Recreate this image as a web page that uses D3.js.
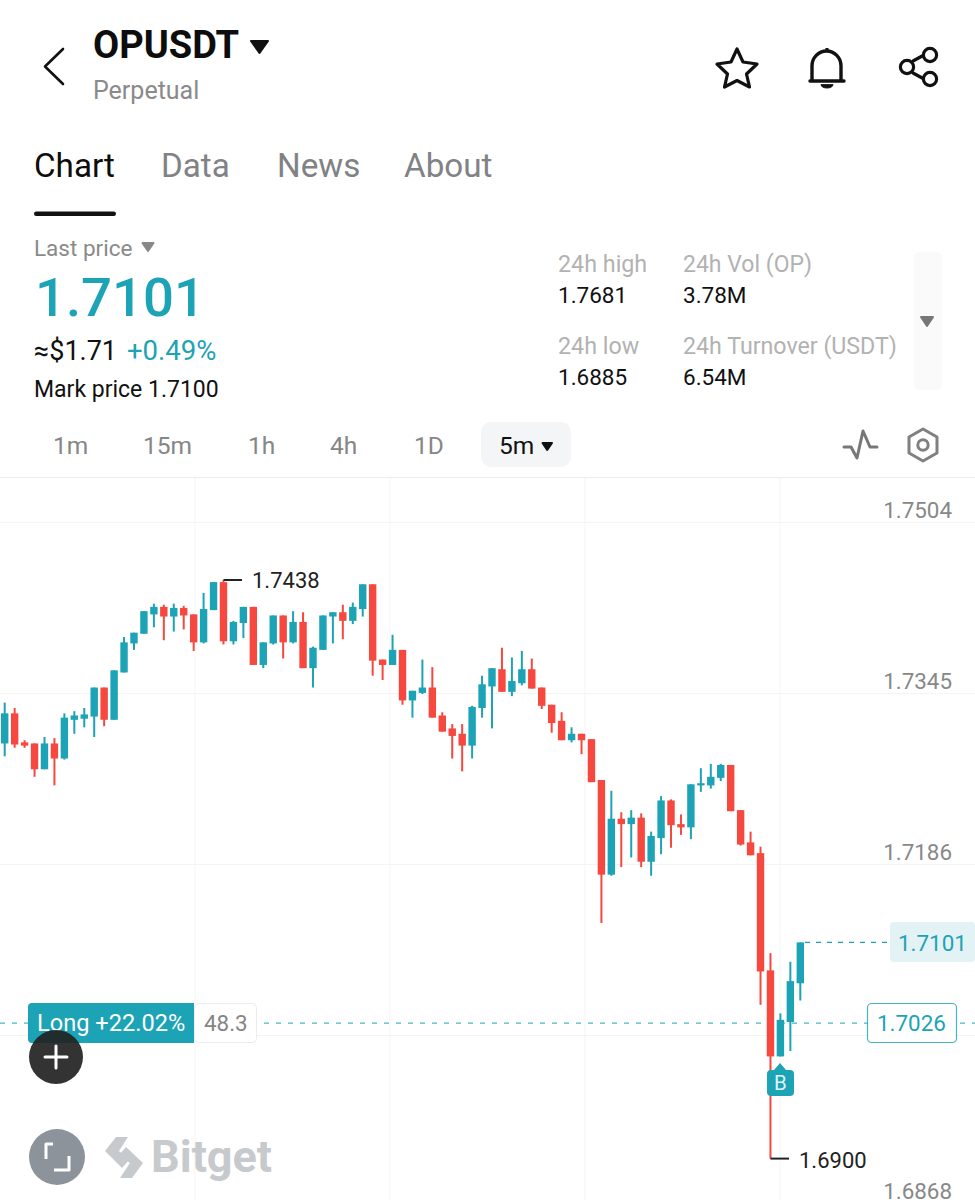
<!DOCTYPE html>
<html><head><meta charset="utf-8">
<script src="https://cdn.jsdelivr.net/npm/d3@7"></script>
<style>html,body{margin:0;padding:0;background:#fff}svg{display:block}text{font-family:Roboto,"Noto Sans",sans-serif}</style>
</head><body><div id="c"></div>
<script>
const opens=[1.7286,1.7314,1.7287,1.7286,1.7262,1.7286,1.7272,1.7308,1.7309,1.7311,1.7338,1.7308,1.7352,1.7379,1.7388,1.7406,1.7413,1.7404,1.7412,1.7406,1.7380,1.7410,1.7436,1.7381,1.7398,1.7413,1.7359,1.7379,1.7405,1.7380,1.7399,1.7356,1.7373,1.7404,1.7408,1.7400,1.7411,1.7434,1.7364,1.7359,1.7373,1.7326,1.7333,1.7338,1.7312,1.7300,1.7295,1.7284,1.7319,1.7339,1.7355,1.7334,1.7342,1.7355,1.7338,1.7322,1.7307,1.7289,1.7295,1.7290,1.7252,1.7164,1.7216,1.7211,1.7217,1.7176,1.7198,1.7233,1.7211,1.7208,1.7247,1.7247,1.7254,1.7266,1.7224,1.7194,1.7184,1.7075,1.6995,1.7027,1.7063];
const closes=[1.7314,1.7285,1.7284,1.7262,1.7286,1.7272,1.7310,1.7312,1.7313,1.7338,1.7308,1.7354,1.7380,1.7389,1.7409,1.7413,1.7404,1.7412,1.7405,1.7380,1.7411,1.7436,1.7381,1.7399,1.7413,1.7359,1.7380,1.7405,1.7380,1.7399,1.7356,1.7375,1.7405,1.7408,1.7400,1.7413,1.7434,1.7363,1.7359,1.7373,1.7326,1.7335,1.7338,1.7310,1.7297,1.7293,1.7284,1.7320,1.7341,1.7356,1.7334,1.7344,1.7355,1.7337,1.7321,1.7305,1.7289,1.7295,1.7289,1.7250,1.7164,1.7216,1.7211,1.7217,1.7176,1.7200,1.7233,1.7210,1.7208,1.7248,1.7249,1.7255,1.7266,1.7223,1.7192,1.7182,1.7074,1.6995,1.7029,1.7065,1.7101];
const highs=[1.7324,1.7319,1.7289,1.7286,1.7292,1.7291,1.7314,1.7316,1.7319,1.7338,1.7338,1.7354,1.7385,1.7389,1.7409,1.7416,1.7415,1.7416,1.7414,1.7406,1.7426,1.7436,1.7438,1.7400,1.7413,1.7413,1.7380,1.7405,1.7405,1.7409,1.7408,1.7376,1.7405,1.7408,1.7415,1.7417,1.7434,1.7434,1.7364,1.7387,1.7373,1.7335,1.7364,1.7357,1.7315,1.7304,1.7304,1.7321,1.7349,1.7356,1.7375,1.7366,1.7372,1.7365,1.7338,1.7322,1.7315,1.7301,1.7295,1.7290,1.7252,1.7242,1.7222,1.7224,1.7221,1.7204,1.7237,1.7234,1.7220,1.7248,1.7263,1.7267,1.7267,1.7266,1.7224,1.7204,1.7190,1.7091,1.7035,1.7083,1.7101];
const lows=[1.7274,1.7282,1.7282,1.7255,1.7262,1.7247,1.7271,1.7295,1.7301,1.7292,1.7302,1.7308,1.7352,1.7373,1.7388,1.7394,1.7382,1.7390,1.7392,1.7372,1.7379,1.7410,1.7378,1.7378,1.7384,1.7359,1.7356,1.7378,1.7365,1.7379,1.7356,1.7338,1.7373,1.7379,1.7383,1.7397,1.7404,1.7349,1.7345,1.7359,1.7322,1.7310,1.7332,1.7310,1.7297,1.7272,1.7260,1.7272,1.7310,1.7300,1.7334,1.7330,1.7340,1.7337,1.7318,1.7296,1.7289,1.7287,1.7276,1.7250,1.7119,1.7163,1.7171,1.7180,1.7171,1.7163,1.7183,1.7189,1.7201,1.7197,1.7241,1.7244,1.7251,1.7223,1.7191,1.7182,1.7043,1.6900,1.6995,1.7000,1.7047];
const axisTicks=[1.7504,1.7345,1.7186,1.6868];
const gridPrices=[1.7504,1.7345,1.7186,1.7027];
const intervals=["1m","15m","1h","4h","1D"];
const tabs=["Chart","Data","News","About"];
const TEAL="#1ca3b5",RED="#f6483e";

const W=975,H=1200;
const svg=d3.select("#c").append("svg").attr("width",W).attr("height",H).attr("viewBox",`0 0 ${W} ${H}`);
const x=d3.scaleLinear().domain([0,80]).range([4.7,800.3]);
const y=d3.scaleLinear().domain([1.7504,1.6868]).range([509,1193]);
const GRID_OFF=13;

function T(s,px,py,size,fill,weight,anchor,parent){
  return (parent||svg).append("text").text(s).attr("x",px).attr("y",py).attr("font-size",size)
   .attr("fill",fill).attr("font-weight",weight||400).attr("text-anchor",anchor||"start");
}
function tri(p,fill){svg.append("path").attr("d","M"+p.map(a=>a.join(",")).join("L")+"Z").attr("fill",fill).attr("stroke",fill).attr("stroke-width",2).attr("stroke-linejoin","round");}
function P(d,stroke,sw,fill){return svg.append("path").attr("d",d).attr("fill",fill||"none").attr("stroke",stroke).attr("stroke-width",sw).attr("stroke-linejoin","round").attr("stroke-linecap","round");}

// header
P("M63,49L45,66.5L63,84","#111",2.6);
T("OPUSDT",93,58,38,"#0d0d0d",700);
tri([[251,41],[268,41],[259.5,53]],"#111");
T("Perpetual",93,99,25,"#8a8a8a");
P("M737,49L743,62L757,64L746.5,74L749.5,87L737,80.5L724.5,87L727.5,74L717,64L731,62Z","#111",3.2);
P("M812,80V66a14.5,15 0 0 1 29,0V80","#111",3.4);
P("M810,81H844","#111",3.4);
P("M821,85a6,3 0 0 0 12,0Z","#111",1,"#111");
svg.append("path").attr("d","M827,48v3").attr("stroke","#111").attr("stroke-width",3);
P("M913,61L924,55M913,73L924,79","#111",3.2);
[[930,55],[907,67],[930,79]].forEach(c=>svg.append("circle").attr("cx",c[0]).attr("cy",c[1]).attr("r",6.6).attr("fill","#fff").attr("stroke","#111").attr("stroke-width",3.2));

// tabs
[34,161,277,404].forEach((px,i)=>T(tabs[i],px,177,33.2,i?"#808285":"#0d0d0d"));
svg.append("rect").attr("x",34).attr("y",211.5).attr("width",82).attr("height",4.5).attr("rx",2.2).attr("fill","#111");

// price block
T("Last price",34,256,22.5,"#8a8a8a");
tri([[142.5,243],[153.5,243],[148,251]],"#888");
T("1.7101",35,316,54.5,TEAL,500);
T("≈$1.71",34,360,27,"#111");
T("+0.49%",127,360,27.5,TEAL,400);
T("Mark price 1.7100",34,397,23,"#111");

// stats
T("24h high",558,272,23.3,"#b2b2b2");T("1.7681",558,303,22.5,"#111");
T("24h Vol (OP)",683,272,23,"#b2b2b2");T("3.78M",683,303,22.5,"#111");
T("24h low",558,354,23.3,"#b2b2b2");T("1.6885",558,385,22.5,"#111");
T("24h Turnover (USDT)",683,354,23.2,"#b2b2b2");T("6.54M",683,385,22.5,"#111");
svg.append("rect").attr("x",914).attr("y",252).attr("width",28).attr("height",138).attr("rx",5).attr("fill","#fafafa");
tri([[921,317],[933,317],[927,326]],"#777");

// intervals
[53,143,248,330,414].forEach((px,i)=>T(intervals[i],px,454,24.5,"#868686"));
svg.append("rect").attr("x",481).attr("y",422).attr("width",90).attr("height",45).attr("rx",10).attr("fill","#f4f5f6");
T("5m",499,454,24.5,"#111",400);
tri([[542.5,443],[552,443],[547.2,450]],"#111");
P("M844,447H851L857,458L863,431L870,447H877","#777",3);
P("M923,429L937,437V453L923,461L909,453V437Z","#808080",3);
svg.append("circle").attr("cx",923).attr("cy",445).attr("r",5.2).attr("fill","none").attr("stroke","#808080").attr("stroke-width",3);

// chart area
svg.append("line").attr("x1",0).attr("x2",W).attr("y1",477.5).attr("y2",477.5).attr("stroke","#ececec");
const grid=svg.append("g").attr("stroke","#f4f4f4").attr("stroke-width",1);
grid.selectAll("line.h").data(gridPrices).join("line").attr("x1",0).attr("x2",W).attr("y1",d=>Math.round(y(d))+GRID_OFF+.5).attr("y2",d=>Math.round(y(d))+GRID_OFF+.5);
grid.selectAll("line.v").data([19.13,38.74,58.35,77.96]).join("line").attr("x1",d=>x(d)).attr("x2",d=>x(d)).attr("y1",478).attr("y2",H);

const axis=d3.axisLeft(y).tickValues(axisTicks).tickFormat(d3.format(".4f")).tickSize(0).tickPadding(0);
const ag=svg.append("g").attr("transform","translate(952,0)").call(axis);
ag.select(".domain").remove();
ag.selectAll("text").attr("font-size",22.4).attr("fill","#888").attr("dy",d=>d<1.69?"0.25em":"0.36em").style("font-family","Roboto,sans-serif");

// position line
svg.append("line").attr("x1",0).attr("x2",W).attr("y1",y(1.7026)).attr("y2",y(1.7026)).attr("stroke",TEAL).attr("stroke-opacity",.8).attr("stroke-width",1.2).attr("stroke-dasharray","5 7");

// candles
const idx=d3.range(opens.length);
const col=i=>closes[i]>=opens[i]?TEAL:RED;
svg.append("g").selectAll("line").data(idx).join("line")
  .attr("x1",i=>x(i)).attr("x2",i=>x(i)).attr("y1",i=>y(highs[i])).attr("y2",i=>y(lows[i])).attr("stroke",col).attr("stroke-width",2);
svg.append("g").selectAll("rect").data(idx).join("rect")
  .attr("x",i=>x(i)-3.7).attr("width",7.4)
  .attr("y",i=>y(Math.max(opens[i],closes[i])))
  .attr("height",i=>Math.max(1.5,Math.abs(y(opens[i])-y(closes[i])))).attr("fill",col);

// hi/lo markers
svg.append("line").attr("x1",x(22)).attr("x2",242).attr("y1",y(1.7438)).attr("y2",y(1.7438)).attr("stroke","#222").attr("stroke-width",2);
T("1.7438",252,y(1.7438)+8,22,"#222");
svg.append("line").attr("x1",x(77)).attr("x2",789).attr("y1",y(1.69)).attr("y2",y(1.69)).attr("stroke","#222").attr("stroke-width",2);
T("1.6900",799,y(1.69)+9,22,"#222");

// last price line + label
svg.append("line").attr("x1",805).attr("x2",890).attr("y1",y(1.7101)).attr("y2",y(1.7101)).attr("stroke",TEAL).attr("stroke-width",1.2).attr("stroke-dasharray","5 6");
svg.append("rect").attr("x",890).attr("y",922).attr("width",85).attr("height",40).attr("rx",4).attr("fill","#e2f2f5");
T("1.7101",898,951,22.4,TEAL,400);
svg.append("rect").attr("x",867.5).attr("y",1003.5).attr("width",89).attr("height",39).attr("rx",4).attr("fill","#fff").attr("stroke",TEAL).attr("stroke-opacity",.8).attr("stroke-width",1.2);
T("1.7026",877,1031,22.4,TEAL,400);

// buy marker
svg.append("path").attr("d","M780,1063L786,1070H790a4,4 0 0 1 4,4V1092a4,4 0 0 1 -4,4H771a4,4 0 0 1 -4,-4V1074a4,4 0 0 1 4,-4H774Z").attr("fill",TEAL);
T("B",780.5,1090,20.5,"#dff5f8",400,"middle");

// long tag
svg.append("rect").attr("x",194.5).attr("y",1003.5).attr("width",62).attr("height",39).attr("rx",4).attr("fill","#fff").attr("stroke","#ececec");
T("48.3",204,1031,22.4,"#858585");
svg.append("path").attr("d","M32,1003H194V1043H32a4,4 0 0 1 -4,-4V1007a4,4 0 0 1 4,-4Z").attr("fill",TEAL);
T("Long +22.02%",37,1031,23.6,"#fff");

// plus button
svg.append("circle").attr("cx",56).attr("cy",1057).attr("r",27).attr("fill","#222").attr("fill-opacity",.92);
P("M45,1057H67M56,1046V1068","#fff",3);

// fullscreen + logo
svg.append("circle").attr("cx",57).attr("cy",1157).attr("r",28).attr("fill","#8d939b");
P("M53,1144H46V1159M69,1156V1170H54","#fff",3).attr("stroke-linecap","butt");
svg.append("path").attr("d","M128,1137H116L105,1151L122,1168L129,1160L119,1151Z").attr("fill","#c7cacd");
svg.append("path").attr("d","M120,1178H132L143,1163L126,1147L119,1155L130,1163Z").attr("fill","#c7cacd");
T("Bitget",151,1172,45,"#c7cacd",700);
</script></body></html>
